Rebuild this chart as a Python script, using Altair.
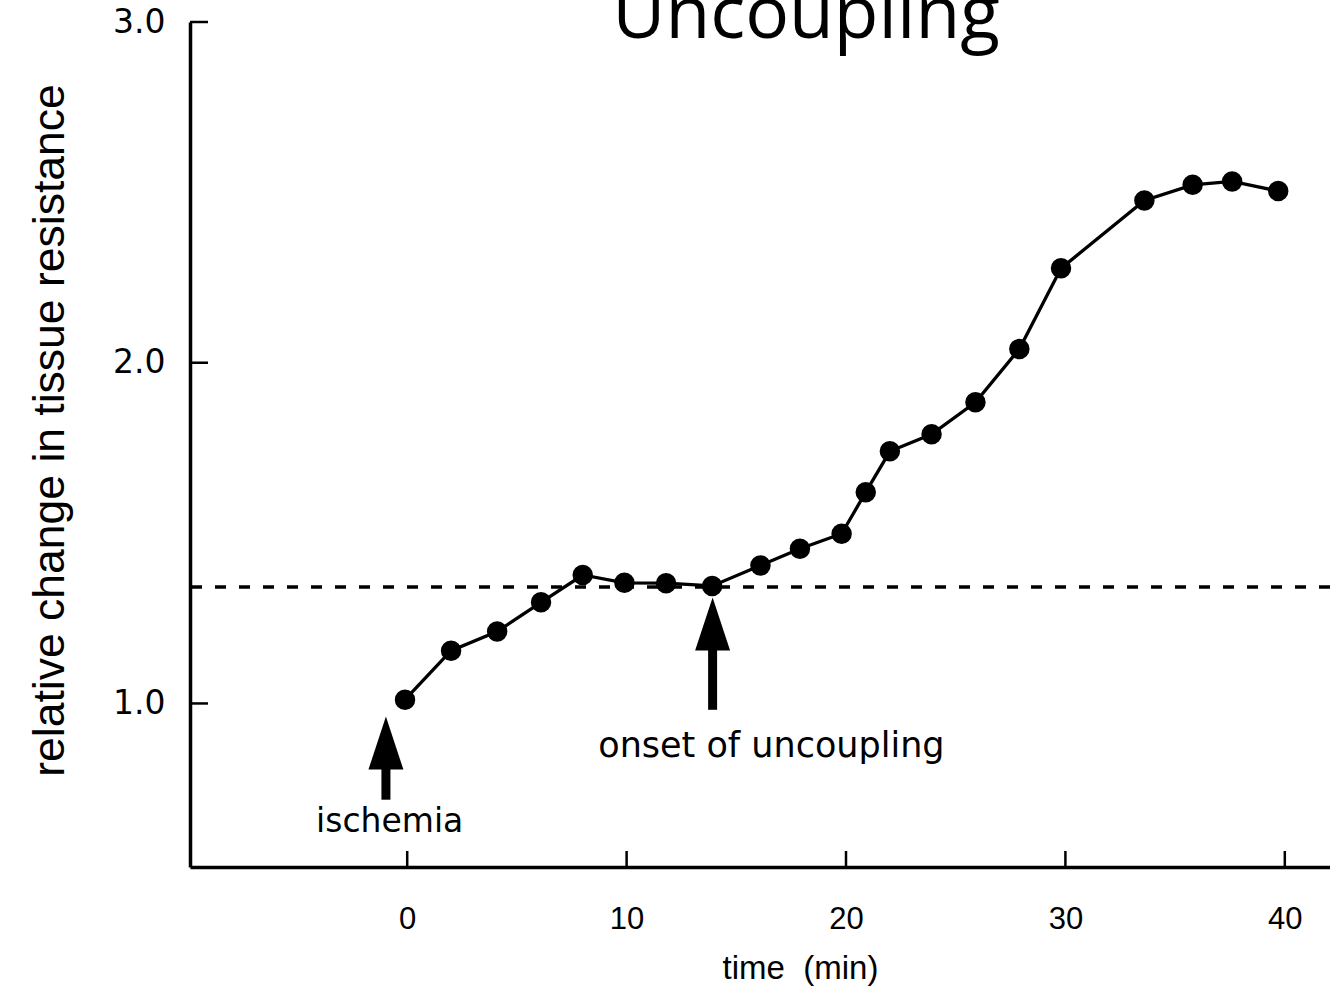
import altair as alt
import pandas as pd

# ---- data ----
time_min = [-0.1, 2.0, 4.1, 6.1, 8.0, 9.9, 11.8, 13.9, 16.1, 17.9, 19.8,
            20.9, 22.0, 23.9, 25.9, 27.9, 29.8, 33.6, 35.8, 37.6, 39.7]
resistance = [1.011, 1.155, 1.211, 1.297, 1.377, 1.354, 1.353, 1.345, 1.405,
              1.454, 1.498, 1.620, 1.740, 1.790, 1.884, 2.040, 2.277, 2.476,
              2.522, 2.532, 2.504]
reference_level = [1.342]
x_tick_values = [0, 10, 20, 30, 40]
y_tick_values = [1.0, 2.0, 3.0]

annot_labels = ["ischemia", "onset of uncoupling"]
annot_x = [-0.8, 16.6]
annot_y = [0.624, 0.844]
annot_size = [33, 35]

arrow_x = [-0.97, 13.92]
arrow_head_y = [0.8836, 1.2332]
arrow_shaft_top = [0.820, 1.172]
arrow_shaft_bottom = [0.7175, 0.9814]

title_text = ["Uncoupling"]
x_title = "time\u00a0 (min)"
y_title = "relative change in tissue resistance"

X_DOMAIN = [-9.9, 42.06]
Y_DOMAIN = [0.52, 3.0]
W, H = 1140, 845
SANS = "Liberation Sans, Arial, sans-serif"

df = pd.DataFrame({"t": time_min, "r": resistance})
ref_df = pd.DataFrame({"level": reference_level})
xt_df = pd.DataFrame({"v": x_tick_values})
yt_df = pd.DataFrame({"v": y_tick_values})
ann_df = pd.DataFrame({"label": annot_labels, "x": annot_x, "y": annot_y, "s": annot_size})
arr_df = pd.DataFrame({"x": arrow_x, "hy": arrow_head_y,
                       "y1": arrow_shaft_top, "y2": arrow_shaft_bottom})
title_df = pd.DataFrame({"label": title_text})

xscale = alt.Scale(domain=X_DOMAIN, nice=False, zero=False)
yscale = alt.Scale(domain=Y_DOMAIN, nice=False, zero=False)

xaxis = alt.Axis(values=x_tick_values, format="d", grid=False, ticks=False, tickSize=0,
                 domainColor="black", domainWidth=3.5,
                 labelFont=SANS, labelFontSize=31, labelColor="black", labelPadding=37,
                 title=x_title, titleFont=SANS, titleFontSize=33, titleFontWeight="normal",
                 titleColor="black", titleX=610, titleY=111, titleBaseline="alphabetic",
                 titleAnchor="middle", titleAlign="center")
yaxis = alt.Axis(values=y_tick_values, format=".1f", grid=False, ticks=False, tickSize=0,
                 domainColor="black", domainWidth=3.5,
                 labelFont="DejaVu Sans", labelFontSize=33, labelColor="black", labelPadding=25,
                 title=y_title, titleFont=SANS, titleFontSize=44.5, titleFontWeight="normal",
                 titleColor="black", titleX=-140, titleY=408, titleBaseline="middle",
                 titleAngle=270, titleAlign="center")

line = alt.Chart(df).mark_line(color="black", strokeWidth=3.3).encode(
    x=alt.X("t:Q", scale=xscale, axis=xaxis),
    y=alt.Y("r:Q", scale=yscale, axis=yaxis),
)
pts = alt.Chart(df).mark_circle(color="black", opacity=1, size=420).encode(
    x=alt.X("t:Q", scale=xscale), y=alt.Y("r:Q", scale=yscale))

ref_line = alt.Chart(ref_df).mark_rule(color="black", strokeWidth=3.5,
                                       strokeDash=[11, 13]).encode(
    y=alt.Y("level:Q", scale=yscale))

xticks = alt.Chart(xt_df).mark_rule(color="black", strokeWidth=2.5).encode(
    x=alt.X("v:Q", scale=xscale), y=alt.value(H), y2=alt.value(H - 16))
yticks = alt.Chart(yt_df).mark_rule(color="black", strokeWidth=2.5).encode(
    y=alt.Y("v:Q", scale=yscale), x=alt.value(0), x2=alt.value(18))

shafts = alt.Chart(arr_df).mark_rule(color="black", strokeWidth=9).encode(
    x=alt.X("x:Q", scale=xscale), y=alt.Y("y1:Q", scale=yscale), y2="y2:Q")
heads = alt.Chart(arr_df).mark_point(
    shape="M0,-1L0.66,1L-0.66,1Z", filled=True, color="black", opacity=1,
    size=2809, strokeWidth=0).encode(
    x=alt.X("x:Q", scale=xscale), y=alt.Y("hy:Q", scale=yscale))

ann = alt.Chart(ann_df).mark_text(font="DejaVu Sans", color="black", align="center",
                                  baseline="alphabetic").encode(
    x=alt.X("x:Q", scale=xscale), y=alt.Y("y:Q", scale=yscale),
    text="label:N", size=alt.Size("s:Q", scale=None, legend=None))

title = alt.Chart(title_df).mark_text(font="Open Sans", fontSize=73, color="black",
                                      align="center", baseline="alphabetic").encode(
    x=alt.value(616), y=alt.value(16), text="label:N")

chart = alt.layer(ref_line, line, pts, xticks, yticks, shafts, heads, ann, title).properties(
    width=W, height=H,
    autosize=alt.AutoSizeParams(type="none"),
    padding={"left": 190, "top": 22, "right": 0, "bottom": 134},
    background="white",
).configure_view(strokeWidth=0)

chart.save("out.html", embed_options={"renderer": "svg", "actions": False})
